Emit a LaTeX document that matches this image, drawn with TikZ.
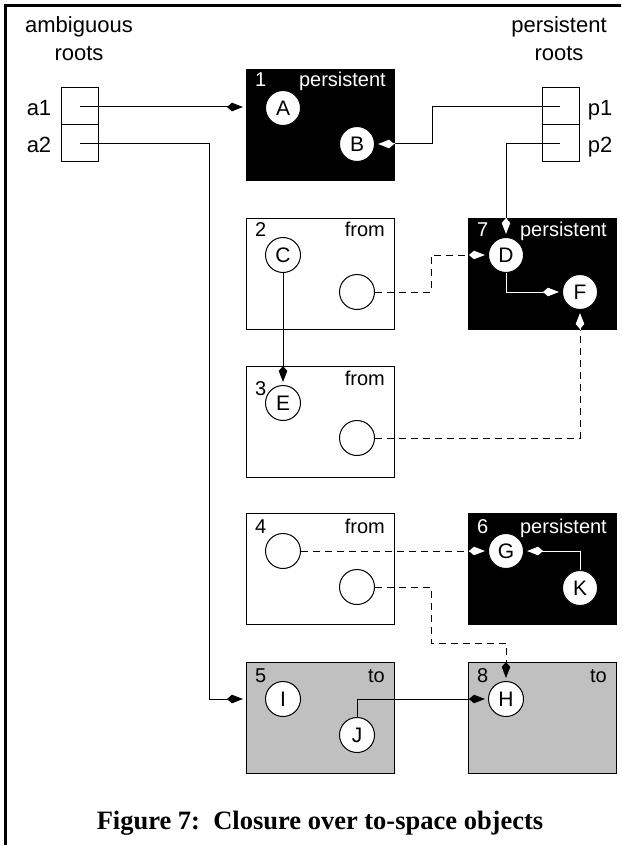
\documentclass[tikz,border=0pt]{standalone}
\usepackage{fontspec}
\setmainfont{Liberation Serif}
\setsansfont{Liberation Sans}
\usetikzlibrary{arrows.meta}
\definecolor{tog}{RGB}{192,192,192}
\colorlet{connc}{black}
\tikzset{
  box/.style={draw=black, line width=1pt, minimum width=148pt, minimum height=111pt, anchor=north west, inner sep=0pt},
  pbox/.style={box, fill=black},
  fbox/.style={box, fill=white},
  tbox/.style={box, fill=tog},
  obj/.style={circle, draw=black, fill=white, line width=1pt, minimum size=35pt, inner sep=0pt, font=\sffamily\fontsize{21}{21}\selectfont},
  lbl/.style={font=\sffamily\fontsize{20}{20}\selectfont, inner sep=0pt},
  rlbl/.style={font=\sffamily\fontsize{22}{22}\selectfont, inner sep=0pt, anchor=base},
  cell/.style={draw=black, line width=1pt, minimum width=37pt, minimum height=37pt, inner sep=0pt},
  conn/.style={draw=connc, line width=1pt, -{Stealth[length=11pt,width=8pt,inset=-5pt]}, shorten >=3pt},
  dconn/.style={conn, dash pattern=on 7pt off 5pt},
}
\newcommand\allconns{%
  \draw[conn] (a1c) -- (a1c -| b1.west);
  \draw[conn] (a2c) -| (turnA) -- (turnA -| b5.west);
  \draw[conn] (p1c) -| (turnB) -- (B);
  \draw[conn] (p2c) -| (D);
  \draw[conn] (C) -- (E);
  \draw[dconn] (c2) -- (turnC) |- (D);
  \draw[conn] (D) |- (F);
  \draw[dconn] (c3) -| (F);
  \draw[dconn] (c4a) -- (G);
  \draw[dconn] (c4b) -| (turnD) -| (H);
  \draw[conn] (K) |- (G);
  \draw[conn] (J) |- (H);
}
\begin{document}
\begin{tikzpicture}[x=1pt, y=-1pt]
\useasboundingbox (0,0) rectangle (621,845);
% frame
\draw[line width=3pt] (5.5,845) -- (5.5,5.5) -- (621,5.5);

% root labels
\node[rlbl] (amb) at (79,33) {ambiguous};
\node[rlbl] (ambr) at (79,61) {roots};
\node[rlbl] (per) at (559,33) {persistent};
\node[rlbl] (perr) at (559,61) {roots};

% root cells
\node[cell] (a1cell) at (79.5,106.5) {};
\node[cell] (a2cell) at (79.5,143.5) {};
\node[cell] (p1cell) at (560.5,106.5) {};
\node[cell] (p2cell) at (560.5,143.5) {};
\node[rlbl] (a1l) at (39,116) {a1};
\node[rlbl] (a2l) at (39,153) {a2};
\node[rlbl] (p1l) at (600,116) {p1};
\node[rlbl] (p2l) at (600,153) {p2};
\coordinate (a1c) at (80,107);
\coordinate (a2c) at (80,144);
\coordinate (p1c) at (560,107);
\coordinate (p2c) at (560,144);

% boxes
\node[pbox] (b1) at (246,69) {};
\node[fbox] (b2) at (246,218) {};
\node[pbox] (b7) at (468,218) {};
\node[fbox] (b3) at (246,366) {};
\node[fbox] (b4) at (246,513) {};
\node[pbox] (b6) at (468,513) {};
\node[tbox] (b5) at (246,662) {};
\node[tbox] (b8) at (468,662) {};

% box labels
\node[lbl, text=white, anchor=base west] (n1) at (255,87) {1};
\node[lbl, text=white, anchor=base east] (t1) at (386,87) {persistent};
\node[lbl, anchor=base west] (n2) at (255,236) {2};
\node[lbl, anchor=base east] (t2) at (385,236) {from};
\node[lbl, text=white, anchor=base west] (n7) at (477,236) {7};
\node[lbl, text=white, anchor=base east] (t7) at (607,236) {persistent};
\node[lbl, anchor=base west] (n3) at (255,395) {3};
\node[lbl, anchor=base east] (t3) at (385,385) {from};
\node[lbl, anchor=base west] (n4) at (255,533) {4};
\node[lbl, anchor=base east] (t4) at (385,533) {from};
\node[lbl, text=white, anchor=base west] (n6) at (477,533) {6};
\node[lbl, text=white, anchor=base east] (t6) at (607,533) {persistent};
\node[lbl, anchor=base west] (n5) at (255,682) {5};
\node[lbl, anchor=base east] (t5) at (385,682) {to};
\node[lbl, anchor=base west] (n8) at (477,682) {8};
\node[lbl, anchor=base east] (t8) at (607,682) {to};

% objects
\node[obj] (A) at (283,108) {A};
\node[obj] (B) at (357,144) {B};
\node[obj] (C) at (283,255) {C};
\node[obj] (c2) at (357,292) {};
\node[obj] (D) at (506,255) {D};
\node[obj] (F) at (580,292) {F};
\node[obj] (E) at (283,403) {E};
\node[obj] (c3) at (357,438) {};
\node[obj] (c4a) at (283,551) {};
\node[obj] (c4b) at (357,587) {};
\node[obj] (G) at (506,551) {G};
\node[obj] (K) at (580,588) {K};
\node[obj] (I) at (283,699) {I};
\node[obj] (J) at (357,735) {J};
\node[obj] (H) at (506,699) {H};

% turning points
\coordinate (turnA) at (209,699);
\coordinate (turnB) at (432,144);
\coordinate (turnC) at (431,292);
\coordinate (turnD) at (431,643);

% connectors
\allconns
\begin{scope}
  \colorlet{connc}{white}
  \clip (b1.north west) rectangle (b1.south east)
        (b7.north west) rectangle (b7.south east)
        (b6.north west) rectangle (b6.south east);
  \allconns
\end{scope}

% caption
\node[font=\bfseries\fontsize{26.5}{26.5}\selectfont, anchor=base, inner sep=0pt] (cap) at (320,829) {Figure 7:\ \ Closure over to-space objects};
\end{tikzpicture}
\end{document}
